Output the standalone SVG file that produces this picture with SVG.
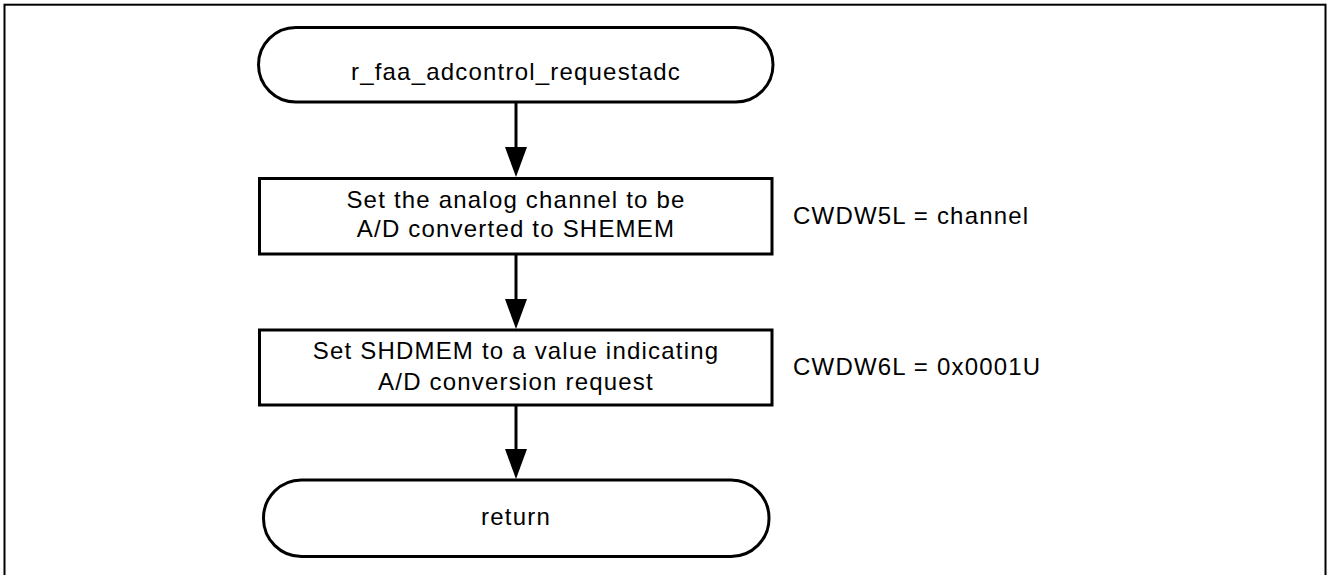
<svg xmlns="http://www.w3.org/2000/svg" width="1328" height="575" viewBox="0 0 1328 575">
  <defs>
    <marker id="arrow" markerUnits="userSpaceOnUse" markerWidth="22" markerHeight="30" refX="11" refY="30" orient="auto-start-reverse" viewBox="0 0 22 30">
      <path d="M0,0 L22,0 L11,30 Z" fill="#000"/>
    </marker>
    <style>
      .frame { fill: none; stroke: #000; stroke-width: 2; }
      .shape { fill: #fff; stroke: #000; stroke-width: 3; }
      .edge { fill: none; stroke: #000; stroke-width: 3; }
      text { font-family: "Liberation Sans", Arial, sans-serif; font-size: 24px; letter-spacing: 1.2px; fill: #000; }
      .c { text-anchor: middle; }
    </style>
  </defs>

  <rect width="1328" height="575" fill="#fff"/>
  <!-- outer frame, open at the bottom edge -->
  <rect class="frame" x="4.5" y="4.7" width="1321" height="580"/>

  <g id="connectors">
    <line class="edge" x1="516" y1="102" x2="516" y2="148"/>
    <path d="M505,147 L527,147 L516,177 Z" fill="#000"/>
    <line class="edge" x1="516" y1="254" x2="516" y2="300"/>
    <path d="M505,299 L527,299 L516,329 Z" fill="#000"/>
    <line class="edge" x1="516" y1="405" x2="516" y2="450"/>
    <path d="M505,449 L527,449 L516,479 Z" fill="#000"/>
  </g>

  <g id="start">
    <rect class="shape" x="258.5" y="27.5" width="514.5" height="74.5" rx="37.25" ry="37.25"/>
    <text class="c" x="516" y="80">r_faa_adcontrol_requestadc</text>
  </g>

  <g id="set-channel">
    <rect class="shape" x="259.5" y="178.5" width="512.5" height="75.5"/>
    <text class="c" x="516" y="208">Set the analog channel to be</text>
    <text class="c" x="516" y="237">A/D converted to SHEMEM</text>
  </g>

  <g id="set-channel-note">
    <text x="793" y="224">CWDW5L = channel</text>
  </g>

  <g id="set-request">
    <rect class="shape" x="259.5" y="330" width="512.5" height="75"/>
    <text class="c" x="516" y="359">Set SHDMEM to a value indicating</text>
    <text class="c" x="516" y="390">A/D conversion request</text>
  </g>

  <g id="set-request-note">
    <text x="793" y="375">CWDW6L = 0x0001U</text>
  </g>

  <g id="end">
    <rect class="shape" x="263.5" y="480" width="505.5" height="76.5" rx="38" ry="38"/>
    <text class="c" x="516" y="525">return</text>
  </g>
</svg>
